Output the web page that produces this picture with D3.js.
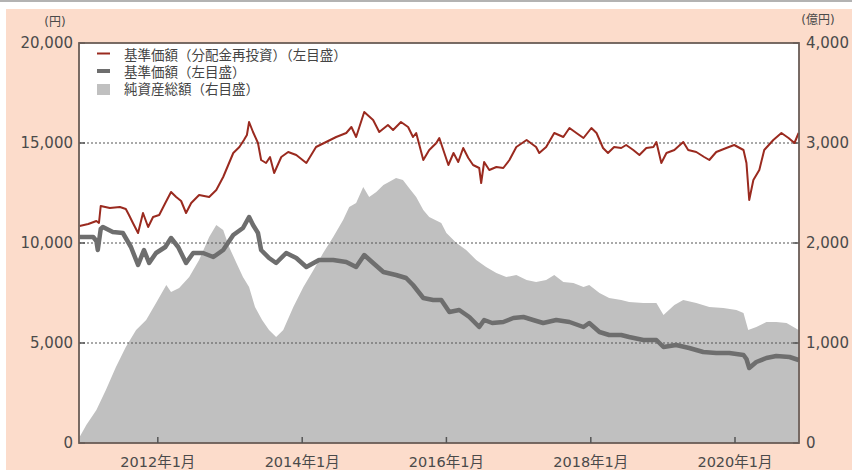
<!DOCTYPE html>
<html><head><meta charset="utf-8">
<script src="https://cdn.jsdelivr.net/npm/d3@7"></script>
<style>
body{margin:0;background:#fff;}
text{font-family:"DejaVu Sans","Noto Sans CJK JP",sans-serif;}
</style>
</head><body>
<svg id="c" width="852" height="470"></svg>
<script>
// 基準価額（分配金再投資） 円
const tnavDates = ["2010-12-01","2011-01-14","2011-02-24","2011-03-09","2011-03-18","2011-05-03","2011-06-23","2011-07-23","2011-08-08","2011-08-28","2011-09-23","2011-10-18","2011-11-13","2011-12-08","2012-01-08","2012-02-08","2012-03-08","2012-04-03","2012-04-28","2012-05-23","2012-06-18","2012-07-28","2012-09-17","2012-10-23","2012-11-27","2013-01-17","2013-02-17","2013-03-12","2013-03-27","2013-04-07","2013-04-27","2013-05-22","2013-06-07","2013-07-02","2013-07-22","2013-08-12","2013-09-17","2013-10-22","2013-12-02","2014-01-22","2014-03-12","2014-05-02","2014-06-22","2014-08-12","2014-09-07","2014-10-01","2014-11-11","2014-12-26","2015-01-26","2015-03-11","2015-04-06","2015-05-16","2015-06-21","2015-07-16","2015-08-01","2015-09-06","2015-10-06","2015-11-11","2015-11-26","2016-01-11","2016-02-06","2016-03-01","2016-03-26","2016-04-21","2016-05-15","2016-06-15","2016-06-25","2016-07-10","2016-08-05","2016-09-10","2016-10-15","2016-11-15","2016-12-20","2017-02-10","2017-03-30","2017-04-15","2017-05-20","2017-06-30","2017-08-15","2017-09-15","2017-10-20","2017-11-25","2018-01-04","2018-01-30","2018-03-04","2018-03-29","2018-04-29","2018-06-04","2018-06-29","2018-08-04","2018-09-04","2018-10-09","2018-11-14","2018-11-29","2018-12-24","2019-01-19","2019-02-28","2019-04-14","2019-05-09","2019-06-19","2019-07-29","2019-08-24","2019-09-28","2019-11-18","2019-12-28","2020-02-13","2020-02-28","2020-03-13","2020-04-03","2020-05-03","2020-05-28","2020-07-13","2020-08-23","2020-09-28","2020-10-28","2020-11-18"];
const tnavValues = [10850,10950,11100,11000,11850,11750,11800,11700,11400,11000,10500,11500,10800,11300,11400,12000,12550,12300,12100,11500,12000,12400,12300,12650,13300,14500,14800,15150,15400,16050,15550,15000,14150,14000,14300,13500,14300,14550,14400,14000,14800,15050,15300,15500,15800,15300,16550,16150,15550,15900,15650,16050,15800,15300,15500,14150,14650,15000,15250,13900,14500,14050,14750,14250,13900,13750,13000,14050,13650,13800,13750,14150,14800,15150,14800,14500,14800,15500,15300,15750,15500,15250,15750,15500,14750,14500,14800,14750,14900,14650,14400,14750,14800,15050,14000,14500,14650,15050,14650,14550,14300,14150,14550,14750,14900,14650,14000,12150,13150,13650,14650,15150,15500,15250,15000,15500];

// 基準価額 円
const navDates = ["2010-12-01","2011-02-08","2011-02-24","2011-03-03","2011-03-18","2011-03-29","2011-05-18","2011-07-08","2011-08-18","2011-09-23","2011-10-23","2011-11-18","2011-12-23","2012-02-08","2012-03-08","2012-04-13","2012-05-23","2012-06-28","2012-08-17","2012-10-08","2012-11-27","2013-01-17","2013-03-07","2013-04-07","2013-04-27","2013-05-22","2013-06-07","2013-07-17","2013-08-22","2013-10-12","2013-12-02","2014-01-22","2014-03-27","2014-06-07","2014-08-12","2014-10-01","2014-11-11","2014-12-26","2015-02-16","2015-04-21","2015-06-11","2015-07-16","2015-09-06","2015-10-26","2015-12-06","2016-01-16","2016-03-06","2016-04-26","2016-06-15","2016-07-10","2016-08-20","2016-10-15","2016-12-05","2017-01-25","2017-03-15","2017-05-05","2017-07-10","2017-09-15","2017-11-25","2017-12-24","2018-02-14","2018-04-04","2018-06-04","2018-07-14","2018-09-24","2018-11-29","2019-01-04","2019-03-09","2019-05-14","2019-07-24","2019-09-28","2019-12-03","2020-02-13","2020-02-28","2020-03-13","2020-04-18","2020-06-08","2020-07-28","2020-10-03","2020-11-18"];
const navValues = [10300,10300,10100,9650,10700,10800,10550,10500,9800,8900,9650,9000,9500,9800,10250,9800,9000,9500,9500,9300,9650,10400,10750,11300,10900,10500,9650,9250,9000,9500,9250,8800,9150,9150,9050,8800,9400,9000,8550,8400,8250,7900,7250,7150,7150,6550,6650,6300,5800,6150,6000,6050,6250,6300,6150,6000,6150,6050,5800,6000,5550,5400,5400,5300,5150,5150,4800,4900,4750,4550,4500,4500,4400,4200,3750,4050,4250,4350,4300,4150];

// 純資産総額 億円
const assetDates = ["2010-12-01","2011-01-04","2011-02-24","2011-04-13","2011-06-03","2011-07-23","2011-09-13","2011-11-03","2011-12-23","2012-02-13","2012-03-08","2012-04-18","2012-06-08","2012-07-28","2012-09-17","2012-10-23","2012-11-27","2012-12-27","2013-02-02","2013-03-07","2013-04-07","2013-05-07","2013-06-12","2013-07-17","2013-08-22","2013-09-27","2013-11-17","2014-01-07","2014-02-27","2014-04-17","2014-06-07","2014-07-27","2014-08-27","2014-10-01","2014-11-06","2014-12-06","2015-01-11","2015-02-16","2015-03-16","2015-04-21","2015-05-26","2015-06-26","2015-08-01","2015-09-06","2015-10-06","2015-12-06","2016-01-01","2016-02-21","2016-04-10","2016-05-31","2016-07-20","2016-09-10","2016-10-30","2016-12-20","2017-02-10","2017-03-30","2017-05-20","2017-06-30","2017-08-15","2017-10-05","2017-11-25","2017-12-24","2018-02-14","2018-04-04","2018-06-04","2018-07-14","2018-09-24","2018-11-29","2019-01-04","2019-02-28","2019-04-14","2019-06-19","2019-08-24","2019-11-03","2020-01-08","2020-02-13","2020-03-08","2020-04-18","2020-06-08","2020-07-28","2020-09-18","2020-11-18"];
const assetValues = [60,180,330,530,760,960,1130,1230,1400,1580,1510,1550,1660,1830,2060,2180,2130,1960,1800,1660,1560,1360,1230,1130,1060,1130,1360,1560,1730,1900,2060,2230,2360,2400,2560,2460,2510,2580,2610,2650,2630,2550,2460,2330,2260,2200,2100,2000,1930,1830,1760,1700,1660,1680,1630,1610,1630,1680,1610,1600,1560,1580,1500,1450,1430,1410,1400,1400,1280,1380,1430,1400,1360,1350,1330,1300,1130,1160,1210,1210,1200,1130];

const leftTicks = [0,5000,10000,15000,20000];
const rightTicks = [0,1000,2000,3000,4000];
const xTickDates = ["2012-01-01","2014-01-01","2016-01-01","2018-01-01","2020-01-01"];
const xTickLabels = ["2012年1月","2014年1月","2016年1月","2018年1月","2020年1月"];
const legendLabels = ["基準価額（分配金再投資）（左目盛）","基準価額（左目盛）","純資産総額（右目盛）"];

const parse = d3.timeParse("%Y-%m-%d");
const svg = d3.select("#c");
const L = 79, R = 799, T = 43, B = 443;

const x = d3.scaleTime().domain([new Date(2010,10,28), new Date(2020,10,20)]).range([L, R]);
const yL = d3.scaleLinear().domain([0,20000]).range([B, T]);
const yR = d3.scaleLinear().domain([0,4000]).range([B, T]);

const tnav = tnavDates.map((d,i)=>({date:parse(d), v:tnavValues[i]}));
const nav = navDates.map((d,i)=>({date:parse(d), v:navValues[i]}));
const asset = assetDates.map((d,i)=>({date:parse(d), v:assetValues[i]}));

// backgrounds
svg.append("rect").attr("width",852).attr("height",470).attr("fill","#fff");
svg.append("line").attr("x1",0).attr("x2",852).attr("y1",1).attr("y2",1).attr("stroke","#9a9a9a").attr("stroke-width",1.5);
svg.append("rect").attr("x",6).attr("y",9).attr("width",846).attr("height",461).attr("fill","#fcdccb");
svg.append("rect").attr("x",L).attr("y",T).attr("width",R-L).attr("height",B-T).attr("fill","#fff");

// area
svg.append("path").datum(asset)
  .attr("d", d3.area().x(d=>x(d.date)).y0(yR(0)).y1(d=>yR(d.v)))
  .attr("fill","#c0c0c0");

// gridlines
svg.append("g").selectAll("line").data(leftTicks.filter(v=>v>0 && v<20000)).join("line")
  .attr("x1",L).attr("x2",R).attr("y1",d=>yL(d)).attr("y2",d=>yL(d))
  .attr("stroke","#555").attr("stroke-width",1.2).attr("stroke-dasharray","2,2");

// inner ticks left/right
svg.append("g").selectAll("line").data(leftTicks).join("line")
  .attr("x1",L).attr("x2",L+6).attr("y1",d=>yL(d)).attr("y2",d=>yL(d))
  .attr("stroke","#555").attr("stroke-width",1.5);
svg.append("g").selectAll("line").data(rightTicks).join("line")
  .attr("x1",R-6).attr("x2",R).attr("y1",d=>yR(d)).attr("y2",d=>yR(d))
  .attr("stroke","#555").attr("stroke-width",1.5);

// lines
svg.append("path").datum(nav)
  .attr("d", d3.line().x(d=>x(d.date)).y(d=>yL(d.v)))
  .attr("fill","none").attr("stroke","#6e6e6e").attr("stroke-width",4.5).attr("stroke-linejoin","round");
svg.append("path").datum(tnav)
  .attr("d", d3.line().x(d=>x(d.date)).y(d=>yL(d.v)))
  .attr("fill","none").attr("stroke","#9a2a1f").attr("stroke-width",2).attr("stroke-linejoin","round");

// frame
svg.append("rect").attr("x",L).attr("y",T).attr("width",R-L).attr("height",B-T)
  .attr("fill","none").attr("stroke","#6a5d57").attr("stroke-width",1.8);

// x ticks
const xt = xTickDates.map(parse);
svg.append("g").selectAll("line").data(xt).join("line")
  .attr("x1",d=>x(d)).attr("x2",d=>x(d)).attr("y1",B).attr("y2",B-6)
  .attr("stroke","#555").attr("stroke-width",1.5);
svg.append("g").selectAll("text").data(xt).join("text")
  .attr("x",d=>x(d)).attr("y",467).attr("text-anchor","middle")
  .attr("font-size",14.5).attr("fill","#4a4a4a").text((d,i)=>xTickLabels[i]);

// y labels
const fmt = d3.format(",");
svg.append("g").selectAll("text").data(leftTicks).join("text")
  .attr("x",73).attr("y",d=>yL(d)+5).attr("text-anchor","end")
  .attr("font-size",15).attr("fill","#4a4a4a").text(d=>fmt(d));
svg.append("g").selectAll("text").data(rightTicks).join("text")
  .attr("x",806).attr("y",d=>yR(d)+5).attr("text-anchor","start")
  .attr("font-size",15).attr("fill","#4a4a4a").text(d=>fmt(d));
svg.append("text").attr("x",55).attr("y",26).attr("text-anchor","middle")
  .attr("font-size",12).attr("fill","#4a4a4a").text("(円)");
svg.append("text").attr("x",818).attr("y",24).attr("text-anchor","middle")
  .attr("font-size",12).attr("fill","#4a4a4a").text("(億円)");

// legend
const lg = svg.append("g");
lg.append("line").attr("x1",97).attr("x2",110).attr("y1",53.5).attr("y2",53.5).attr("stroke","#9a2a1f").attr("stroke-width",2);
lg.append("line").attr("x1",97).attr("x2",110).attr("y1",71).attr("y2",71).attr("stroke","#6e6e6e").attr("stroke-width",4);
lg.append("rect").attr("x",97).attr("y",84).attr("width",13).attr("height",11).attr("fill","#c0c0c0");
lg.selectAll("text").data(legendLabels).join("text")
  .attr("x",124).attr("y",(d,i)=>60+i*17).attr("font-size",13.5).attr("fill","#444")
  .attr("font-family","'Noto Sans CJK JP',sans-serif").text(d=>d);
</script>
</body></html>
